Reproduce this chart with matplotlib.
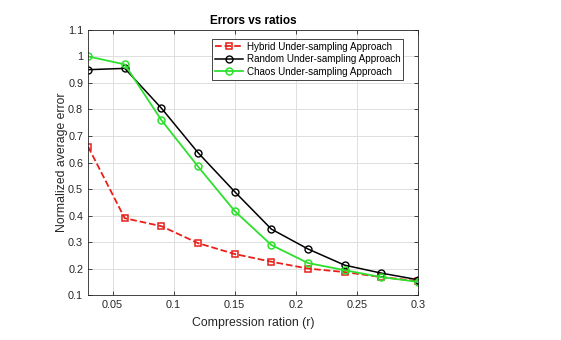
import matplotlib
matplotlib.use("Agg")
import matplotlib.pyplot as plt
import numpy as np

ratios = [0.03, 0.06, 0.09, 0.12, 0.15, 0.18, 0.21, 0.24, 0.27, 0.30]
hybrid = [0.66, 0.39, 0.36, 0.296, 0.255, 0.226, 0.200, 0.187, 0.168, 0.153]
random_us = [0.95, 0.955, 0.805, 0.637, 0.490, 0.349, 0.274, 0.213, 0.183, 0.158]
chaos = [1.0, 0.97, 0.76, 0.585, 0.417, 0.289, 0.221, 0.194, 0.168, 0.150]

plt.rcParams["font.family"] = ["Liberation Sans", "DejaVu Sans"]

fig = plt.figure(figsize=(5.61, 3.4), dpi=100)
ax = fig.add_axes([0.157, 0.132, 0.588, 0.780])

ax.plot(ratios, hybrid, "--s", color="#e8201a", lw=1.3, ms=4.5, mfc="none", mew=1.1,
        label="Hybrid Under-sampling Approach")
ax.plot(ratios, random_us, "-o", color="black", lw=1.1, ms=5, mfc="none", mew=1.0,
        label="Random Under-sampling Approach")
ax.plot(ratios, chaos, "-o", color="#2ee02e", lw=1.3, ms=5, mfc="none", mew=1.1,
        label="Chaos Under-sampling Approach")

ax.set_xlim(0.03, 0.3)
ax.set_ylim(0.1, 1.1)
ax.set_xticks([0.05, 0.1, 0.15, 0.2, 0.25, 0.3])
ax.set_xticklabels(["0.05", "0.1", "0.15", "0.2", "0.25", "0.3"])
ax.set_yticks(np.arange(0.1, 1.11, 0.1))
ax.set_yticklabels(["0.1", "0.2", "0.3", "0.4", "0.5", "0.6", "0.7", "0.8", "0.9", "1", "1.1"])
ax.grid(True, color="#dedede", lw=0.7)
ax.set_axisbelow(True)
ax.tick_params(direction="in", top=True, right=True, labelsize=7.8, colors="#262626",
               length=3, width=0.6)
for s in ax.spines.values():
    s.set_color("#262626")
    s.set_linewidth(0.6)

ax.set_title("Errors vs ratios", fontsize=8.5, fontweight="bold", pad=4)
ax.set_xlabel("Compression ration (r)", fontsize=8.8, color="#262626", labelpad=5)
ax.set_ylabel("Normalized average error", fontsize=8.8, color="#262626", labelpad=0)

leg = ax.legend(loc="upper right", fontsize=7.1, frameon=True, fancybox=False,
                edgecolor="#262626", framealpha=1, borderpad=0.3, labelspacing=0.25,
                handlelength=2.8, handletextpad=0.4, bbox_to_anchor=(0.97, 0.985))
leg.get_frame().set_linewidth(0.6)

fig.savefig("out.png", dpi=100)
